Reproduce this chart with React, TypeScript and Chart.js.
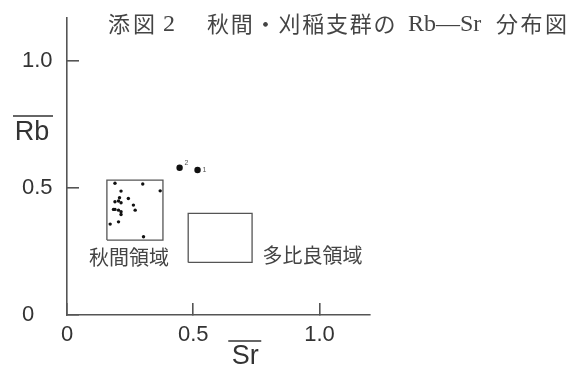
import React, { useEffect, useRef } from "react";
import { Chart, registerables } from "chart.js";

Chart.register(...registerables);

// ---- data ----
const akimaSr = [0.19, 0.3, 0.369, 0.214, 0.208, 0.204, 0.214, 0.243, 0.19, 0.184, 0.19, 0.204, 0.214, 0.263, 0.27, 0.214, 0.171, 0.204, 0.303];
const akimaRb = [0.519, 0.516, 0.489, 0.488, 0.462, 0.449, 0.442, 0.459, 0.446, 0.416, 0.416, 0.413, 0.407, 0.433, 0.413, 0.396, 0.358, 0.367, 0.308];

const kariineSr = [0.446, 0.517];
const kariineRb = [0.58, 0.571];
const kariineLabels = ["2", "1"];

const akimaBoxSr = [0.158, 0.38];
const akimaBoxRb = [0.295, 0.531];
const tahiraBoxSr = [0.48, 0.733];
const tahiraBoxRb = [0.207, 0.4];

const regionNames = ["秋間領域", "多比良領域"];
const regionLabelSr = [0.246, 0.972];
const regionLabelRb = [0.226, 0.236];

const xTickValues = [0, 0.5, 1.0];
const xTickLabels = ["0", "0.5", "1.0"];
const yTickValues = [0, 0.5, 1.0];
const yTickLabels = ["0", "0.5", "1.0"];

// title pieces: text, start x, letter spacing, latin?
const titleTexts = ["添図", "2", "秋間・刈稲支群の", "Rb—Sr", "分布図"];
const titleX = [108, 163, 207, 408, 496];
const titleSpacing = [3, 0, 1.8, 0, 2.5];
const titleLatin = [false, true, false, true, false];

const xTitle = "Sr";
const yTitle = "Rb";

const box = (sr: number[], rb: number[]) => [
  { x: sr[0], y: rb[0] },
  { x: sr[1], y: rb[0] },
  { x: sr[1], y: rb[1] },
  { x: sr[0], y: rb[1] },
  { x: sr[0], y: rb[0] },
];

const annotPlugin = {
  id: "annot",
  afterDraw(chart: any) {
    const { ctx } = chart;
    const xs = chart.scales.x;
    const ys = chart.scales.y;
    ctx.save();
    // title
    ctx.fillStyle = "#444";
    ctx.textBaseline = "middle";
    ctx.textAlign = "left";
    titleTexts.forEach((t, i) => {
      ctx.font = titleLatin[i]
        ? '24px "Liberation Serif"'
        : '22px "Noto Sans CJK JP"';
      (ctx as any).letterSpacing = titleSpacing[i] + "px";
      ctx.fillText(t, titleX[i], titleLatin[i] ? 25 : 24);
    });
    (ctx as any).letterSpacing = "0px";

    // region labels
    ctx.font = '20px "Noto Sans CJK JP"';
    ctx.textAlign = "center";
    ctx.fillStyle = "#444";
    regionNames.forEach((n, i) => {
      ctx.fillText(n, xs.getPixelForValue(regionLabelSr[i]), ys.getPixelForValue(regionLabelRb[i]));
    });

    // point labels
    ctx.font = '7px "Liberation Sans"';
    ctx.textAlign = "left";
    ctx.fillStyle = "#555";
    kariineLabels.forEach((l, i) => {
      const px = xs.getPixelForValue(kariineSr[i]);
      const py = ys.getPixelForValue(kariineRb[i]);
      ctx.fillText(l, px + 5, py + (i === 0 ? -5 : 0));
    });

    // axis titles with overline
    ctx.fillStyle = "#333";
    ctx.strokeStyle = "#333";
    ctx.lineWidth = 1.6;
    ctx.font = '27px "Liberation Sans"';
    ctx.textAlign = "center";
    const ryx = 32;
    const ryy = ys.getPixelForValue(0.717);
    ctx.fillText(yTitle, ryx, ryy);
    ctx.beginPath();
    ctx.moveTo(ryx - 19, ryy - 17);
    ctx.lineTo(ryx + 21, ryy - 17);
    ctx.stroke();

    const sxx = xs.getPixelForValue(0.706);
    const sxy = 357;
    ctx.fillText(xTitle, sxx, sxy);
    ctx.beginPath();
    ctx.moveTo(sxx - 17, sxy - 16);
    ctx.lineTo(sxx + 16, sxy - 16);
    ctx.stroke();
    ctx.restore();
  },
};

export default function App() {
  const ref = useRef<HTMLCanvasElement | null>(null);
  useEffect(() => {
    if (!ref.current) return;
    const axisColor = "#555";
    const chart = new Chart(ref.current, {
      type: "scatter",
      data: {
        datasets: [
          {
            data: akimaSr.map((v, i) => ({ x: v, y: akimaRb[i] })),
            pointRadius: 1.7,
            backgroundColor: "#111",
            borderWidth: 0,
          },
          {
            data: kariineSr.map((v, i) => ({ x: v, y: kariineRb[i] })),
            pointRadius: 3.2,
            backgroundColor: "#111",
            borderWidth: 0,
          },
          {
            data: box(akimaBoxSr, akimaBoxRb),
            showLine: true,
            pointRadius: 0,
            borderColor: "#555",
            borderWidth: 1.3,
            fill: false,
          },
          {
            data: box(tahiraBoxSr, tahiraBoxRb),
            showLine: true,
            pointRadius: 0,
            borderColor: "#555",
            borderWidth: 1.3,
            fill: false,
          },
        ],
      },
      options: {
        responsive: false,
        animation: false,
        layout: { padding: { left: 22, top: 18, right: 208, bottom: 0 } },
        plugins: {
          legend: { display: false },
          tooltip: { enabled: false },
          title: { display: false },
        },
        scales: {
          x: {
            type: "linear",
            min: 0,
            max: 1.2,
            afterBuildTicks: (s: any) => {
              s.ticks = xTickValues.map((v) => ({ value: v }));
            },
            afterFit: (s: any) => {
              s.height = 56;
            },
            border: { display: true, color: axisColor, width: 1.6 },
            grid: {
              display: true,
              drawOnChartArea: false,
              drawTicks: true,
              tickLength: -12,
              color: axisColor,
              lineWidth: 1.6,
            },
            ticks: {
              padding: 19,
              autoSkip: false,
              maxRotation: 0,
              color: "#333",
              font: { family: "Liberation Sans", size: 22 },
              callback: (_v: any, i: number) => xTickLabels[i],
            },
          },
          y: {
            type: "linear",
            min: 0,
            max: 1.17,
            afterBuildTicks: (s: any) => {
              s.ticks = yTickValues.map((v) => ({ value: v }));
            },
            afterFit: (s: any) => {
              s.width = 45;
            },
            border: { display: true, color: axisColor, width: 1.6 },
            grid: {
              display: true,
              drawOnChartArea: false,
              drawTicks: true,
              tickLength: -12,
              color: axisColor,
              lineWidth: 1.6,
            },
            ticks: {
              padding: 0,
              crossAlign: "far",
              autoSkip: false,
              color: "#333",
              font: { family: "Liberation Sans", size: 22 },
              callback: (_v: any, i: number) => yTickLabels[i],
            },
          },
        },
      },
      plugins: [annotPlugin],
    } as any);
    return () => chart.destroy();
  }, []);
  return (
    <div style={{ position: "fixed", left: 0, top: 0, width: 578, height: 371, background: "#fff" }}>
      <canvas ref={ref} width={578} height={371} />
    </div>
  );
}
